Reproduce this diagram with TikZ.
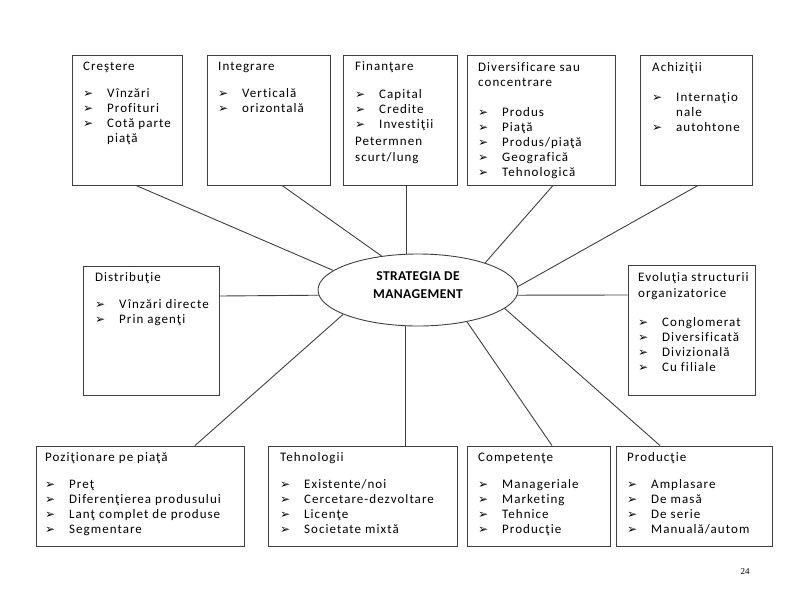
\documentclass[tikz,border=0pt]{standalone}
\usepackage{fontspec}
\setmainfont{Carlito}
\newfontfamily\mainls{Carlito}[LetterSpace=8,Ligatures={NoCommon}]
\newfontfamily\boldls{Carlito}[LetterSpace=3]
\newfontfamily\dejavu{DejaVu Sans}
\newfontfamily\serifnum{Liberation Serif}
\usetikzlibrary{shapes.geometric}
\newcommand\bul{{\dejavu\fontsize{12}{12}\selectfont ➢}}
\newcommand\itm[1]{\makebox[24pt][l]{\bul}#1}
\newcommand\cont[1]{\hspace*{24pt}#1}
\begin{document}
\begin{tikzpicture}[x=1pt,y=-1pt,
  box/.style={draw=black!75, line width=0.9pt, rectangle, inner sep=0pt},
  txt/.style={anchor=north west, inner sep=0pt, align=left, font=\mainls\fontsize{13}{15}\selectfont},
  conn/.style={draw=black!75, line width=0.9pt}]
\useasboundingbox (0,0) rectangle (800,600);
\fill[white] (0,0) rectangle (800,600);

% central ellipse
\node[ellipse, draw=black!75, line width=0.9pt, minimum width=200pt, minimum height=72pt, inner sep=0pt] (ell) at (418,290) {};
\node[inner sep=0pt, align=center, font=\boldls\bfseries\fontsize{13.5}{18}\selectfont] (ellt) at (418,285) {STRATEGIA DE\\MANAGEMENT};

% boxes
\node[box, minimum width=110pt, minimum height=130pt] (cres) at (127,120) {};
\node[box, minimum width=123pt, minimum height=130pt] (integ) at (268.5,120) {};
\node[box, minimum width=114pt, minimum height=130pt] (fin) at (400,120) {};
\node[box, minimum width=148pt, minimum height=130pt] (div) at (541,120) {};
\node[box, minimum width=112pt, minimum height=130pt] (ach) at (696,120) {};
\node[box, minimum width=136pt, minimum height=129pt] (dist) at (151,330.5) {};
\node[box, minimum width=127pt, minimum height=130pt] (evol) at (691.5,330) {};
\node[box, minimum width=208pt, minimum height=100pt] (poz) at (140,496) {};
\node[box, minimum width=189pt, minimum height=100pt] (teh) at (362.5,496) {};
\node[box, minimum width=143pt, minimum height=100pt] (comp) at (538.5,496) {};
\node[box, minimum width=156pt, minimum height=100pt] (prod) at (694,496) {};

% texts
\node[txt] (crest) at (83,59.5) {\strut Creştere\\[12pt]\itm{Vînzări}\\\itm{Profituri}\\\itm{Cotă parte}\\\cont{piaţă}};
\node[txt] (integt) at (218,59.5) {\strut Integrare\\[12pt]\itm{Verticală}\\\itm{orizontală}};
\node[txt] (fint) at (355,59.5) {\strut Finanţare\\[13pt]\itm{Capital}\\\itm{Credite}\\\itm{Investiţii}\\[2pt]Petermnen\\[1pt]scurt/lung};
\node[txt] (divt) at (478,60.5) {\strut Diversificare sau\\concentrare\\[15pt]\itm{Produs}\\\itm{Piaţă}\\\itm{Produs/piaţă}\\\itm{Geografică}\\\itm{Tehnologică}};
\node[txt] (acht) at (652,60.5) {\strut Achiziţii\\[15pt]\itm{Internaţio}\\\cont{nale}\\\itm{autohtone}};
\node[txt] (distt) at (95,270.5) {\strut Distribuţie\\[12pt]\itm{Vînzări directe}\\\itm{Prin agenţi}};
\node[txt] (evolt) at (638,270.5) {\strut Evoluţia structurii\\[1pt]organizatorice\\[14pt]\itm{Conglomerat}\\\itm{Diversificată}\\\itm{Divizională}\\\itm{Cu filiale}};
\node[txt] (pozt) at (45,450.5) {\strut Poziţionare pe piaţă\\[12pt]\itm{Preţ}\\\itm{Diferenţierea produsului}\\\itm{Lanţ complet de produse}\\\itm{Segmentare}};
\node[txt] (teht) at (280,450.5) {\strut Tehnologii\\[12pt]\itm{Existente/noi}\\\itm{Cercetare-dezvoltare}\\\itm{Licenţe}\\\itm{Societate mixtă}};
\node[txt] (compt) at (478,450.5) {\strut Competenţe\\[12pt]\itm{Manageriale}\\\itm{Marketing}\\\itm{Tehnice}\\\itm{Producţie}};
\node[txt] (prodt) at (627,450.5) {\strut Producţie\\[12pt]\itm{Amplasare}\\\itm{De masă}\\\itm{De serie}\\\itm{Manuală/autom}};

% connectors
\draw[conn] ([xshift=9pt]cres.south) -- (ell.167.6);
\draw[conn] ([xshift=13.5pt]integ.south) -- (ell.137.4);
\draw[conn] ([xshift=6pt]fin.south) -- ([xshift=6pt]fin.south |- ell.north);
\draw[conn] ([xshift=12pt]div.south) -- (ell.22.9);
\draw[conn] ([xshift=2pt]ach.south) -- (ell.2.9);
\draw[conn] ([yshift=34.5pt]dist.east) -- (ell.183.5);
\draw[conn] ([yshift=35pt]evol.west) -- (ell.357.1);
\draw[conn] ([xshift=55pt]poz.north) -- (ell.198.4);
\draw[conn] ([xshift=42.5pt]teh.north) -- ([xshift=42.5pt]teh.north |- ell.south);
\draw[conn] ([xshift=13.5pt]comp.north) -- (ell.327.7);
\draw[conn] ([xshift=-34pt]prod.north) -- (ell.348.5);

% page number
\node[inner sep=0pt, font=\serifnum\fontsize{9}{9}\selectfont] (pg) at (745,572) {24};
\end{tikzpicture}
\end{document}
